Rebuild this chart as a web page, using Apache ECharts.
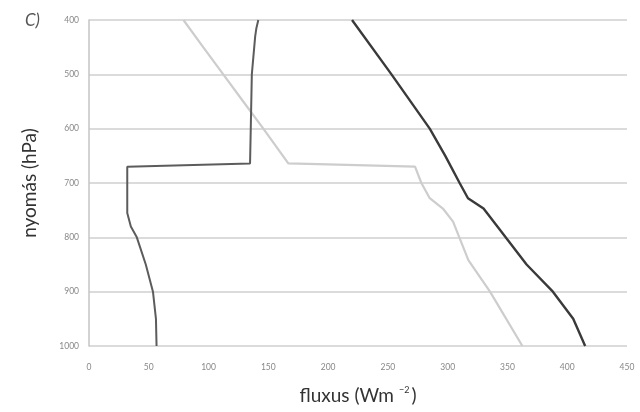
<!DOCTYPE html>
<html>
<head>
<meta charset="utf-8">
<script src="https://cdn.jsdelivr.net/npm/echarts@6/dist/echarts.min.js"></script>
<style>
  html, body { margin: 0; padding: 0; background: #fff; }
  #chart { width: 640px; height: 412px; }
</style>
</head>
<body>
<div id="chart"></div>
<script>
// Pressure levels (hPa) and flux values (W m^-2) for each profile
const netPressure = [400, 415, 430, 500, 600, 664, 670, 755, 780, 800, 850, 900, 950, 1000];
const netFlux     = [141.6, 140, 139, 136.2, 135.3, 134.7, 32, 32, 35, 40, 47.5, 53.5, 56, 56.5];

const lightPressure = [400, 450, 500, 550, 600, 664, 670, 700, 728, 747, 771, 796, 842, 900, 1000];
const lightFlux     = [79, 95.5, 112.3, 129, 145.8, 166.7, 272.7, 278, 285, 296, 304.5, 309, 317.3, 335.4, 362.5];

const darkPressure = [400, 500, 600, 650, 700, 728, 747, 787, 850, 900, 950, 1000];
const darkFlux     = [220, 253, 285, 298, 310, 317, 330, 344, 366, 388, 405, 415];

const xTicks = [0, 50, 100, 150, 200, 250, 300, 350, 400, 450];
const yTicks = [400, 500, 600, 700, 800, 900, 1000];

const pairs = (xs, ps) => xs.map((x, i) => [x, ps[i]]);

const chart = echarts.init(document.getElementById('chart'), null, { renderer: 'canvas' });

const fontFamily = 'Lato, "Open Sans", sans-serif';

chart.setOption({
  backgroundColor: '#ffffff',
  animation: false,
  title: {
    text: 'C)',
    left: 20,
    top: 7,
    textStyle: { fontFamily, fontSize: 17, fontStyle: 'italic', fontWeight: 'normal', color: '#555' }
  },
  grid: { left: 89, right: 13, top: 20, bottom: 66, containLabel: false },
  xAxis: {
    type: 'value',
    min: xTicks[0],
    max: xTicks[xTicks.length - 1],
    interval: 50,
    name: '{n|fluxus (Wm}{s|−2}{n|)}',
    nameLocation: 'middle',
    nameGap: 40,
    nameTextStyle: {
      rich: {
        n: { fontFamily, fontSize: 19, color: '#333' },
        s: { fontFamily, fontSize: 9, color: '#333', verticalAlign: 'top', padding: [0, 2, 10, 5] }
      }
    },
    axisLine: { show: false },
    axisTick: { show: false },
    splitLine: { show: false },
    axisLabel: { fontFamily, fontSize: 8.5, color: '#888', margin: 17, formatter: v => String(v) }
  },
  yAxis: {
    type: 'value',
    inverse: true,
    min: yTicks[0],
    max: yTicks[yTicks.length - 1],
    interval: 100,
    name: 'nyomás (hPa)',
    nameLocation: 'middle',
    nameRotate: 90,
    nameGap: 50,
    nameTextStyle: { fontFamily, fontSize: 19, color: '#333' },
    axisLine: { show: true, lineStyle: { color: '#c4c4c4', width: 1.5 } },
    axisTick: { show: false },
    splitLine: { show: true, lineStyle: { color: '#cfcfcf', width: 1.5 } },
    axisLabel: { fontFamily, fontSize: 8.5, color: '#888', margin: 10, formatter: v => String(v) }
  },
  series: [
    {
      type: 'line',
      data: pairs(lightFlux, lightPressure),
      showSymbol: false,
      lineStyle: { color: '#cdcdcd', width: 2.2 },
      z: 2
    },
    {
      type: 'line',
      data: pairs(netFlux, netPressure),
      showSymbol: false,
      lineStyle: { color: '#5c5c5c', width: 2 },
      z: 3
    },
    {
      type: 'line',
      data: pairs(darkFlux, darkPressure),
      showSymbol: false,
      lineStyle: { color: '#3a3a3a', width: 2.4 },
      z: 4
    }
  ]
});
</script>
</body>
</html>
